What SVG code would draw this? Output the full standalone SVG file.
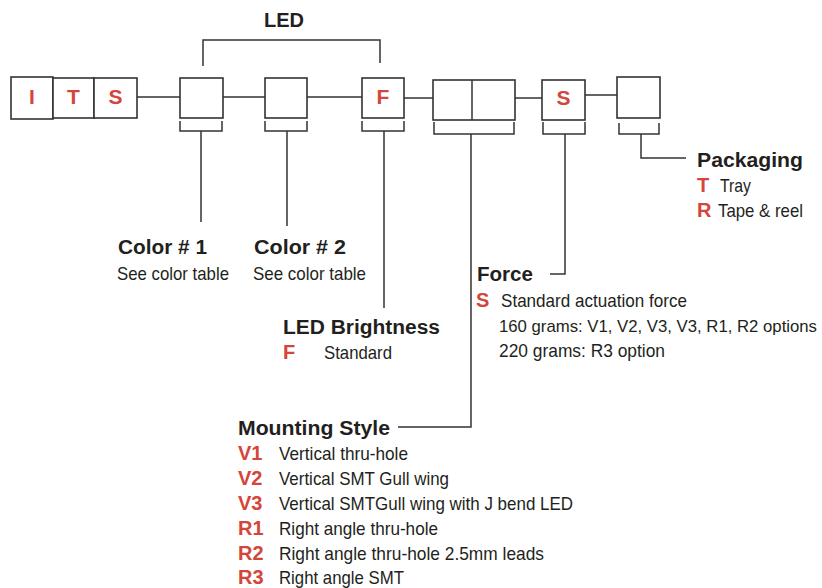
<svg xmlns="http://www.w3.org/2000/svg" width="822" height="588" viewBox="0 0 822 588">
<style>
.box{fill:#fff;stroke:#333;stroke-width:1.6}
.ln{fill:none;stroke:#333;stroke-width:1.5}
.h{font-family:"Liberation Sans",Arial,sans-serif;font-weight:bold;font-size:20px;fill:#231f20}
.t{font-family:"Liberation Sans",Arial,sans-serif;font-size:19px;fill:#231f20}
.ts{font-family:"Liberation Sans",Arial,sans-serif;font-size:17px;fill:#231f20}
.r{font-family:"Liberation Sans",Arial,sans-serif;font-weight:bold;font-size:20px;fill:#d4453a}
.bl{font-family:"Liberation Sans",Arial,sans-serif;font-weight:bold;font-size:21px;fill:#d4453a;text-anchor:middle}
</style>
<rect width="822" height="588" fill="#fff"/>
<g id="connectors">
<path class="ln" d="M137 97H180M223 97H265M307 97H362M404 98H433M515 98H542M585 95H617"/>
<path class="ln" d="M203 66V40H380V63"/>
<path class="ln" d="M180 121V131H222V121M265 121V131H307V121M362 121V131H404V121M434 122V134H514V122M543 122V134H585V122M619 123V134H659V123"/>
<path class="ln" d="M201 131V222M287 131V226M384 131V308M471 134V427H398M565 134V274H550M641 134V158H686"/>
</g>
<g id="title"><text class="h" x="284" y="27" text-anchor="middle">LED</text></g>
<g id="node-I"><rect class="box" x="11" y="77" width="42" height="42"/><text class="bl" x="32" y="104">I</text></g>
<g id="node-T"><rect class="box" x="53" y="78" width="41" height="40"/><text class="bl" x="73.5" y="104">T</text></g>
<g id="node-S1"><rect class="box" x="94" y="78" width="43" height="40"/><text class="bl" x="115.5" y="104">S</text></g>
<g id="node-color1"><rect class="box" x="180" y="78" width="43" height="40"/></g>
<g id="node-color2"><rect class="box" x="265" y="78" width="42" height="40"/></g>
<g id="node-F"><rect class="box" x="362" y="78" width="42" height="40"/><text class="bl" x="383" y="104">F</text></g>
<g id="node-mount"><rect class="box" x="433" y="80" width="82" height="40"/><line class="ln" x1="472" y1="80" x2="472" y2="120"/></g>
<g id="node-S2"><rect class="box" x="542" y="80" width="43" height="40"/><text class="bl" x="563.5" y="105">S</text></g>
<g id="node-pack"><rect class="box" x="617" y="77" width="43" height="41"/></g>
<g id="label-color1">
<text class="h" x="118" y="254" textLength="89" lengthAdjust="spacingAndGlyphs">Color # 1</text>
<text class="t" x="117" y="280" textLength="112" lengthAdjust="spacingAndGlyphs">See color table</text>
</g>
<g id="label-color2">
<text class="h" x="254" y="254" textLength="92" lengthAdjust="spacingAndGlyphs">Color # 2</text>
<text class="t" x="253" y="280" textLength="113" lengthAdjust="spacingAndGlyphs">See color table</text>
</g>
<g id="label-brightness">
<text class="h" x="283" y="334" textLength="157" lengthAdjust="spacingAndGlyphs">LED Brightness</text>
<text class="r" x="283" y="359">F</text>
<text class="t" x="324" y="359" textLength="68" lengthAdjust="spacingAndGlyphs">Standard</text>
</g>
<g id="label-force">
<text class="h" x="477" y="281" textLength="56" lengthAdjust="spacingAndGlyphs">Force</text>
<text class="r" x="476" y="307">S</text>
<text class="t" x="501" y="307" textLength="186" lengthAdjust="spacingAndGlyphs">Standard actuation force</text>
<text class="ts" x="499" y="332" textLength="318" lengthAdjust="spacingAndGlyphs">160 grams: V1, V2, V3, V3, R1, R2 options</text>
<text class="t" x="499" y="357" textLength="166" lengthAdjust="spacingAndGlyphs">220 grams: R3 option</text>
</g>
<g id="label-packaging">
<text class="h" x="697" y="167" textLength="106" lengthAdjust="spacingAndGlyphs">Packaging</text>
<text class="r" x="697" y="192">T</text>
<text class="t" x="720" y="192" textLength="31" lengthAdjust="spacingAndGlyphs">Tray</text>
<text class="r" x="697" y="217">R</text>
<text class="t" x="718" y="217" textLength="85" lengthAdjust="spacingAndGlyphs">Tape &amp; reel</text>
</g>
<g id="label-mounting">
<text class="h" x="238" y="435" textLength="152" lengthAdjust="spacingAndGlyphs">Mounting Style</text>
<text class="r" x="238" y="460">V1</text>
<text class="t" x="279" y="460" textLength="129" lengthAdjust="spacingAndGlyphs">Vertical thru-hole</text>
<text class="r" x="238" y="485">V2</text>
<text class="t" x="279" y="485" textLength="170" lengthAdjust="spacingAndGlyphs">Vertical SMT Gull wing</text>
<text class="r" x="238" y="510">V3</text>
<text class="t" x="279" y="510" textLength="294" lengthAdjust="spacingAndGlyphs">Vertical SMTGull wing with J bend LED</text>
<text class="r" x="238" y="535">R1</text>
<text class="t" x="279" y="535" textLength="159" lengthAdjust="spacingAndGlyphs">Right angle thru-hole</text>
<text class="r" x="238" y="560">R2</text>
<text class="t" x="279" y="560" textLength="265" lengthAdjust="spacingAndGlyphs">Right angle thru-hole 2.5mm leads</text>
<text class="r" x="238" y="584">R3</text>
<text class="t" x="279" y="584" textLength="125" lengthAdjust="spacingAndGlyphs">Right angle SMT</text>
</g>
</svg>
